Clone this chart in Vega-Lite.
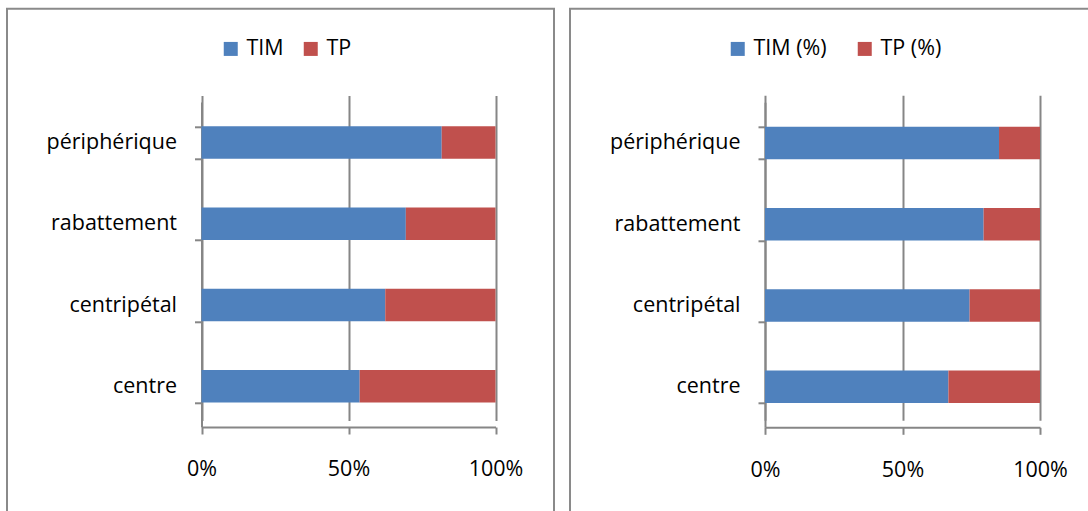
{
  "$schema": "https://vega.github.io/schema/vega-lite/v6.json",
  "padding": {"left": 6, "top": -3.2, "right": 0, "bottom": 0},
  "background": "white",
  "spacing": 14,
  "datasets": {
    "left": [
      {"zone": "périphérique", "mode": "TIM", "share": 0.817},
      {"zone": "périphérique", "mode": "TP", "share": 0.183},
      {"zone": "rabattement", "mode": "TIM", "share": 0.695},
      {"zone": "rabattement", "mode": "TP", "share": 0.305},
      {"zone": "centripétal", "mode": "TIM", "share": 0.625},
      {"zone": "centripétal", "mode": "TP", "share": 0.375},
      {"zone": "centre", "mode": "TIM", "share": 0.538},
      {"zone": "centre", "mode": "TP", "share": 0.462}
    ],
    "right": [
      {"zone": "périphérique", "mode": "TIM (%)", "share": 0.851},
      {"zone": "périphérique", "mode": "TP (%)", "share": 0.149},
      {"zone": "rabattement", "mode": "TIM (%)", "share": 0.795},
      {"zone": "rabattement", "mode": "TP (%)", "share": 0.205},
      {"zone": "centripétal", "mode": "TIM (%)", "share": 0.744},
      {"zone": "centripétal", "mode": "TP (%)", "share": 0.256},
      {"zone": "centre", "mode": "TIM (%)", "share": 0.667},
      {"zone": "centre", "mode": "TP (%)", "share": 0.333}
    ]
  },
  "hconcat": [
    {
      "width": 547,
      "height": 505,
      "data": {"name": "left"},
      "mark": {"type": "bar"},
      "encoding": {
        "y": {
          "field": "zone", "type": "nominal",
          "sort": ["périphérique", "rabattement", "centripétal", "centre"],
          "scale": {"range": [93.2, 418.2], "paddingInner": 0.6, "paddingOuter": 0.3},
          "axis": {"title": null, "offset": -194.5, "tickBand": "extent", "tickSize": 7, "labelPadding": 18, "grid": false}
        },
        "x": {
          "field": "share", "type": "quantitative", "stack": "normalize",
          "scale": {"domain": [0, 1], "range": [194.5, 488.5], "nice": false},
          "axis": {"title": null, "offset": -86.8, "values": [0, 0.5, 1], "format": ".0%", "grid": true, "tickSize": 7, "labelPadding": 25, "labelFlush": false}
        },
        "color": {
          "field": "mode", "type": "nominal",
          "scale": {"domain": ["TIM", "TP"], "range": ["#4F81BD", "#C0504D"]},
          "legend": {"title": null, "orient": "none", "legendX": 213, "legendY": 29, "direction": "horizontal", "symbolType": "square", "symbolSize": 196, "symbolStrokeWidth": 0, "labelFontSize": 21.5, "labelColor": "black", "columnPadding": 16, "labelOffset": 5}
        }
      }
    },
    {
      "width": 520,
      "height": 505,
      "data": {"name": "right"},
      "mark": {"type": "bar"},
      "encoding": {
        "y": {
          "field": "zone", "type": "nominal",
          "sort": ["périphérique", "rabattement", "centripétal", "centre"],
          "scale": {"range": [93.5, 418.5], "paddingInner": 0.6, "paddingOuter": 0.3},
          "axis": {"title": null, "offset": -195, "tickBand": "extent", "tickSize": 7, "labelPadding": 18, "grid": false}
        },
        "x": {
          "field": "share", "type": "quantitative", "stack": "normalize",
          "scale": {"domain": [0, 1], "range": [195, 470], "nice": false},
          "axis": {"title": null, "offset": -86.5, "values": [0, 0.5, 1], "format": ".0%", "grid": true, "tickSize": 7, "labelPadding": 25, "labelFlush": false}
        },
        "color": {
          "field": "mode", "type": "nominal",
          "scale": {"domain": ["TIM (%)", "TP (%)"], "range": ["#4F81BD", "#C0504D"]},
          "legend": {"title": null, "orient": "none", "legendX": 157, "legendY": 29, "direction": "horizontal", "symbolType": "square", "symbolSize": 196, "symbolStrokeWidth": 0, "labelFontSize": 21.5, "labelColor": "black", "columnPadding": 27, "labelOffset": 5}
        }
      }
    }
  ],
  "resolve": {"scale": {"color": "independent", "x": "independent", "y": "independent"}, "legend": {"color": "independent"}},
  "config": {
    "font": "Open Sans",
    "view": {"stroke": "#8a8a8a", "strokeWidth": 2},
    "axis": {
      "domainColor": "#868686", "domainWidth": 2,
      "tickColor": "#868686", "tickWidth": 2,
      "gridColor": "#868686", "gridWidth": 2, "gridOpacity": 1,
      "labelColor": "black", "labelFontSize": 21.5, "labelFont": "Open Sans"
    },
    "legend": {"labelFont": "Open Sans"}
  }
}
